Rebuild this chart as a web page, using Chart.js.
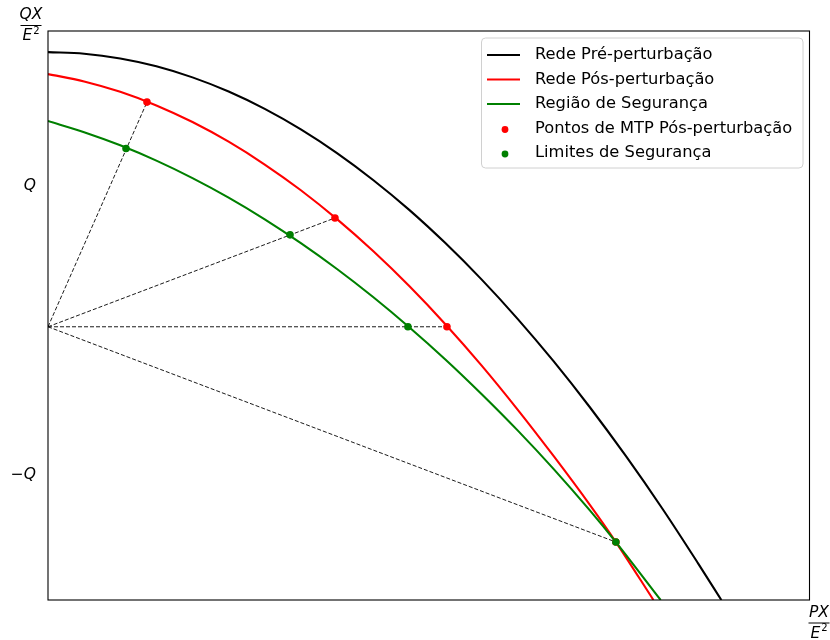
<!DOCTYPE html>
<html>
<head>
<meta charset="utf-8">
<script src="https://cdn.jsdelivr.net/npm/chart.js@4/dist/chart.umd.min.js"></script>
<style>
  html, body { margin: 0; padding: 0; background: #fff; }
  #wrap { width: 830px; height: 640px; }
</style>
</head>
<body>
<div id="wrap"><canvas id="c" width="830" height="640"></canvas></div>
<script>
// Normalised active power (PX/E²) and reactive power (QX/E²) along each curve
const prePX  = [0, 0.25, 0.5, 0.75, 1.0, 1.25, 1.5, 1.75, 2.0, 2.25, 2.5, 2.75, 3.0, 3.25, 3.5, 3.75, 4.0, 4.25, 4.5, 4.66];
const preQX  = [1.927, 1.916, 1.883, 1.829, 1.752, 1.654, 1.534, 1.392, 1.228, 1.042, 0.835, 0.605, 0.354, 0.081, -0.214, -0.531, -0.870, -1.230, -1.613, -1.865];

const postPX = [0, 0.25, 0.5, 0.75, 1.0, 1.25, 1.5, 1.75, 2.0, 2.25, 2.5, 2.75, 3.0, 3.25, 3.5, 3.75, 3.93, 4.19];
const postQX = [1.775, 1.724, 1.652, 1.558, 1.443, 1.307, 1.149, 0.971, 0.771, 0.550, 0.308, 0.044, -0.241, -0.547, -0.870, -1.207, -1.464, -1.865];

const secPX  = [0, 0.25, 0.5, 0.75, 1.0, 1.25, 1.5, 1.75, 2.0, 2.25, 2.5, 2.75, 3.0, 3.25, 3.5, 3.75, 3.93, 4.24];
const secQX  = [1.450, 1.373, 1.282, 1.176, 1.055, 0.920, 0.770, 0.605, 0.426, 0.232, 0.023, -0.200, -0.439, -0.691, -0.959, -1.245, -1.464, -1.865];

// Maximum-transfer points on the post-disturbance curve
const mtpPX  = [0.685, 1.986, 2.761, 3.93];
const mtpQX  = [1.581, 0.779, 0.026, -1.464];

// Security limits on the security-region boundary
const limPX  = [0.54, 1.675, 2.491, 3.93];
const limQX  = [1.26, 0.662, 0.026, -1.464];

// Common origin of the dashed load lines
const originPX = 0;
const originQX = 0.026;

// Axis ranges and the ±Q ticks
const xRange = [0, 5.27];
const yRange = [-1.865, 2.073];
const qTickValues = [1, -1];
const qTickLabels = ['Q', '\u2212Q'];

const labels = {
  pre: 'Rede Pré-perturbação',
  post: 'Rede Pós-perturbação',
  sec: 'Região de Segurança',
  mtp: 'Pontos de MTP Pós-perturbação',
  lim: 'Limites de Segurança'
};

const zip = (xs, ys) => xs.map((x, i) => ({ x, y: ys[i] }));

const datasets = [];

// dashed rays from the origin to each post-disturbance MTP point
mtpPX.forEach((px, i) => {
  datasets.push({
    data: [{ x: originPX, y: originQX }, { x: px, y: mtpQX[i] }],
    showLine: true, borderColor: '#000', borderWidth: 0.9, borderDash: [4, 2],
    pointRadius: 0, pointHoverRadius: 0, order: 10, fill: false
  });
});

datasets.push({
  label: labels.pre, legendKind: 'line', data: zip(prePX, preQX),
  showLine: true, borderColor: '#000000', borderWidth: 2.1,
  pointRadius: 0, cubicInterpolationMode: 'monotone', order: 4, fill: false
});
datasets.push({
  label: labels.post, legendKind: 'line', data: zip(postPX, postQX),
  showLine: true, borderColor: '#ff0000', borderWidth: 2.1,
  pointRadius: 0, cubicInterpolationMode: 'monotone', order: 3, fill: false
});
datasets.push({
  label: labels.sec, legendKind: 'line', data: zip(secPX, secQX),
  showLine: true, borderColor: '#008000', borderWidth: 2.1,
  pointRadius: 0, cubicInterpolationMode: 'monotone', order: 2, fill: false
});
datasets.push({
  label: labels.mtp, legendKind: 'dot', data: zip(mtpPX, mtpQX),
  showLine: false, pointRadius: 3.8, pointBackgroundColor: '#ff0000',
  pointBorderWidth: 0, borderColor: '#ff0000', order: 1
});
datasets.push({
  label: labels.lim, legendKind: 'dot', data: zip(limPX, limQX),
  showLine: false, pointRadius: 3.8, pointBackgroundColor: '#008000',
  pointBorderWidth: 0, borderColor: '#008000', order: 0
});

const MATH = 'italic 15.5px "DejaVu Sans"';
const TEXT = '16.3px "DejaVu Sans"';

function drawFraction(ctx, cx, topMid, num) {
  ctx.fillStyle = '#000';
  ctx.textAlign = 'center';
  ctx.textBaseline = 'middle';
  ctx.font = MATH;
  ctx.fillText(num, cx, topMid);
  ctx.strokeStyle = '#000';
  ctx.lineWidth = 1;
  ctx.beginPath();
  ctx.moveTo(cx - 10.5, topMid + 10.5);
  ctx.lineTo(cx + 10.5, topMid + 10.5);
  ctx.stroke();
  // denominator E²
  ctx.font = MATH;
  const eW = ctx.measureText('E').width;
  ctx.font = '10px "DejaVu Sans"';
  const sW = ctx.measureText('2').width;
  const start = cx - (eW + sW + 1) / 2;
  ctx.textAlign = 'left';
  ctx.font = MATH;
  ctx.fillText('E', start, topMid + 21);
  ctx.font = '10px "DejaVu Sans"';
  ctx.fillText('2', start + eW + 1, topMid + 16);
}

const decorPlugin = {
  id: 'decor',
  afterDraw(chart) {
    const ctx = chart.ctx;
    const { left, top, right, bottom } = chart.chartArea;
    const ys = chart.scales.y;
    ctx.save();

    // frame
    ctx.strokeStyle = '#000';
    ctx.lineWidth = 1.1;
    ctx.strokeRect(left, top, right - left, bottom - top);

    // ±Q tick labels
    ctx.fillStyle = '#000';
    ctx.font = MATH;
    ctx.textAlign = 'right';
    ctx.textBaseline = 'middle';
    qTickValues.forEach((v, i) => {
      ctx.fillText(qTickLabels[i], left - 12, ys.getPixelForValue(v));
    });

    // axis labels as fractions
    drawFraction(ctx, 31, 15, 'QX');
    drawFraction(ctx, 819, 612.5, 'PX');

    // legend
    const items = chart.data.datasets.filter(d => d.legendKind);
    const bx = 481.5, by = 38, bw = 321.5, bh = 130;
    ctx.beginPath();
    ctx.roundRect(bx, by, bw, bh, 4);
    ctx.fillStyle = 'rgba(255,255,255,0.8)';
    ctx.fill();
    ctx.strokeStyle = '#d0d0d0';
    ctx.lineWidth = 1;
    ctx.stroke();

    ctx.font = TEXT;
    ctx.textAlign = 'left';
    ctx.textBaseline = 'middle';
    items.forEach((d, i) => {
      const y = 55 + i * 24.5;
      if (d.legendKind === 'line') {
        ctx.strokeStyle = d.borderColor;
        ctx.lineWidth = 2.1;
        ctx.beginPath();
        ctx.moveTo(487, y);
        ctx.lineTo(520, y);
        ctx.stroke();
      } else {
        ctx.fillStyle = d.pointBackgroundColor;
        ctx.beginPath();
        ctx.arc(505, y + 1, 3.4, 0, Math.PI * 2);
        ctx.fill();
      }
      ctx.fillStyle = '#000';
      ctx.fillText(d.label, 535, y);
    });
    ctx.restore();
  }
};

new Chart(document.getElementById('c'), {
  type: 'scatter',
  data: { datasets },
  options: {
    responsive: false,
    animation: false,
    devicePixelRatio: 1,
    layout: { padding: { left: 48, top: 31, right: 20.5, bottom: 40 } },
    plugins: { legend: { display: false }, tooltip: { enabled: false } },
    events: [],
    scales: {
      x: { type: 'linear', min: xRange[0], max: xRange[1], display: false },
      y: { type: 'linear', min: yRange[0], max: yRange[1], display: false }
    }
  },
  plugins: [decorPlugin]
});
</script>
</body>
</html>
